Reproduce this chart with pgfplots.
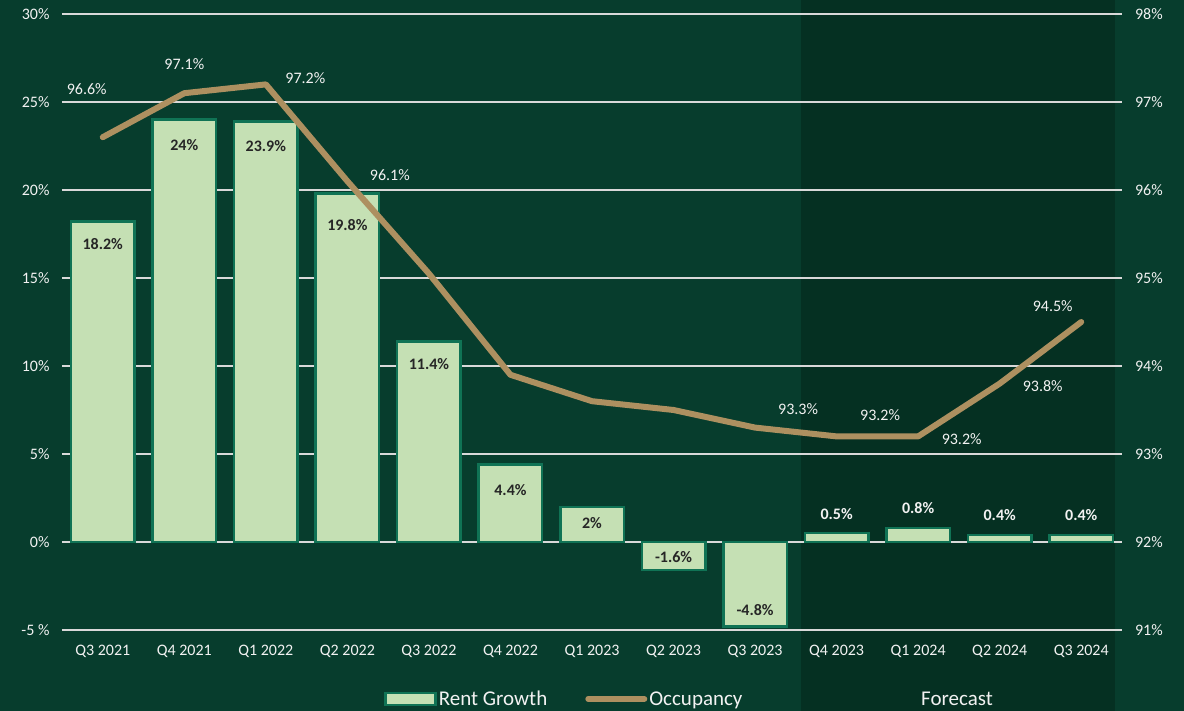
\documentclass[border=0pt]{standalone}
\usepackage{pgfplots}
\pgfplotsset{compat=1.18}
\usepackage{fontspec}
\setmainfont{Carlito}
\definecolor{bg}{RGB}{7,61,45}
\definecolor{fc}{RGB}{5,48,34}
\definecolor{barfill}{RGB}{197,224,180}
\definecolor{baredge}{RGB}{16,115,85}
\definecolor{occ}{RGB}{173,144,96}
\definecolor{gridc}{RGB}{217,217,217}
\definecolor{txt}{RGB}{242,242,242}
\definecolor{lbl}{RGB}{38,38,38}
\begin{document}
\begin{tikzpicture}[x=1pt,y=1pt]
\path[use as bounding box, fill=bg] (0,0) rectangle (1184,711);
\fill[fc] (801,0) rectangle (1115,711);
\begin{axis}[at={(62pt,81pt)}, anchor=south west, scale only axis,
  width=1060pt, height=616pt,
  xmin=-0.5, xmax=12.5, ymin=-5, ymax=30,
  axis line style={draw=none}, major tick length=0pt,
  xtick={0,...,12},
  xticklabels={Q3 2021,Q4 2021,Q1 2022,Q2 2022,Q3 2022,Q4 2022,Q1 2023,Q2 2023,Q3 2023,Q4 2023,Q1 2024,Q2 2024,Q3 2024},
  ytick={-5,0,5,10,15,20,25,30},
  yticklabels={-5 \%,0\%,5\%,10\%,15\%,20\%,25\%,30\%},
  ymajorgrids, grid style={gridc, line width=1.5pt},
  tick label style={font=\fontsize{16}{19}\selectfont, text=txt},
  xticklabel style={yshift=-12pt},
  yticklabel style={xshift=-9pt},
  clip=false,
]
\addplot[ybar, bar width=63.5pt, fill=barfill, draw=baredge, line width=2.5pt]
  coordinates {(0,18.2) (1,24) (2,23.9) (3,19.8) (4,11.4) (5,4.4) (6,2) (7,-1.6) (8,-4.8) (9,0.5) (10,0.8) (11,0.4) (12,0.4)};
\begin{scope}[every node/.style={font=\bfseries\fontsize{16}{19}\selectfont, text=lbl, anchor=center}]
\node[yshift=-22.5pt] at (axis cs:0,18.2) {18.2\%};
\node[yshift=-25pt] at (axis cs:1,24) {24\%};
\node[yshift=-25pt] at (axis cs:2,23.9) {23.9\%};
\node[yshift=-32pt] at (axis cs:3,19.8) {19.8\%};
\node[yshift=-23pt] at (axis cs:4,11.4) {11.4\%};
\node[yshift=-25pt] at (axis cs:5,4.4) {4.4\%};
\node[yshift=-16pt] at (axis cs:6,2) {2\%};
\node[yshift=13pt] at (axis cs:7,-1.6) {-1.6\%};
\node[yshift=16.5pt] at (axis cs:8,-4.8) {-4.8\%};
\node[yshift=19pt, text=txt] at (axis cs:9,0.5) {0.5\%};
\node[yshift=20pt, text=txt] at (axis cs:10,0.8) {0.8\%};
\node[yshift=20pt, text=txt] at (axis cs:11,0.4) {0.4\%};
\node[yshift=20pt, text=txt] at (axis cs:12,0.4) {0.4\%};
\end{scope}
\end{axis}
\begin{axis}[at={(62pt,81pt)}, anchor=south west, scale only axis,
  width=1060pt, height=616pt,
  xmin=-0.5, xmax=12.5, ymin=91, ymax=98,
  axis line style={draw=none}, major tick length=0pt,
  xtick=\empty,
  ytick={91,...,98},
  yticklabels={91\%,92\%,93\%,94\%,95\%,96\%,97\%,98\%},
  yticklabel pos=right,
  tick label style={font=\fontsize{16}{19}\selectfont, text=txt},
  yticklabel style={xshift=9.5pt},
  clip=false,
  legend columns=2,
  legend style={at={(0.474,-0.112)}, anchor=center, draw=none, fill=none,
    text=txt, font=\fontsize{21}{24}\selectfont,
    /tikz/every even column/.append style={column sep=36pt}},
  legend cell align=left,
]
\addlegendimage{legend image code/.code={\draw[fill=barfill, draw=baredge, line width=2.5pt] (0pt,-6pt) rectangle (50pt,6pt);}}
\addlegendentry{Rent Growth}
\addplot[occ, line width=6pt, line cap=round, line join=round, mark=none,
  legend image code/.code={\draw[occ, line width=6pt, line cap=round] (0pt,0pt) -- (56pt,0pt);}]
  coordinates {(0,96.6) (1,97.1) (2,97.2) (3,96.1) (4,95.05) (5,93.9) (6,93.6) (7,93.5) (8,93.3) (9,93.2) (10,93.2) (11,93.8) (12,94.5)};
\addlegendentry{Occupancy}
\begin{scope}[every node/.style={font=\fontsize{16}{19}\selectfont, text=txt, anchor=center}]
\node[xshift=-16pt, yshift=48pt] at (axis cs:0,96.6) {96.6\%};
\node[xshift=0pt, yshift=29pt] at (axis cs:1,97.1) {97.1\%};
\node[xshift=39.5pt, yshift=6pt] at (axis cs:2,97.2) {97.2\%};
\node[xshift=42.5pt, yshift=6pt] at (axis cs:3,96.1) {96.1\%};
\node[xshift=43pt, yshift=18pt] at (axis cs:8,93.3) {93.3\%};
\node[xshift=43.5pt, yshift=21pt] at (axis cs:9,93.2) {93.2\%};
\node[xshift=43.5pt, yshift=-3pt] at (axis cs:10,93.2) {93.2\%};
\node[xshift=43pt, yshift=-3pt] at (axis cs:11,93.8) {93.8\%};
\node[xshift=-28.5pt, yshift=16pt] at (axis cs:12,94.5) {94.5\%};
\end{scope}
\end{axis}
\node[text=txt, font=\fontsize{21}{24}\selectfont, anchor=base] at (957,5) {Forecast};
\end{tikzpicture}
\end{document}
